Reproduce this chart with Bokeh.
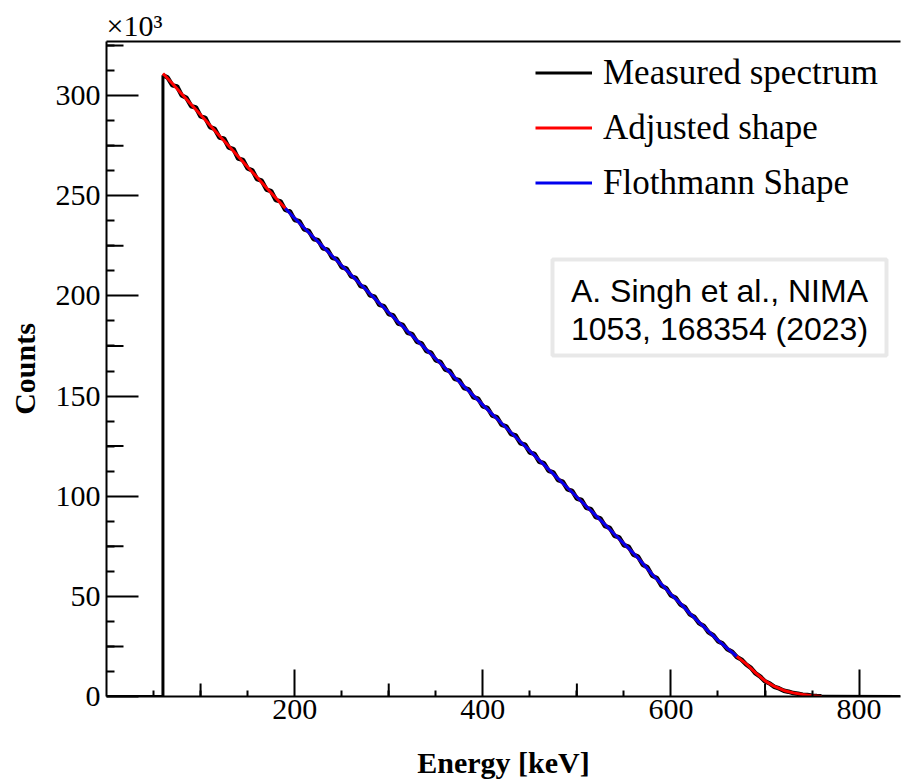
import math
from bokeh.plotting import figure
from bokeh.models import (Range1d, FixedTicker, LinearAxis, Legend, LegendItem,
                          Label, BoxAnnotation)
from bokeh.embed import file_html
from bokeh.resources import INLINE

# ---------------- data (counts in units of 10^3) ----------------
# measured spectrum sampled every 5 keV, 60 ... 760 keV
meas_energy = list(range(60, 765, 5))
measured = [
    310.2, 309.0, 305.1, 304.6, 300.0, 298.9, 294.7, 294.1, 289.6, 288.9,
    284.3, 283.4, 279.1, 278.5, 274.0, 273.3, 268.5, 267.9, 263.6, 262.7,
    258.3, 257.5, 253.1, 252.3, 247.8, 247.2, 242.9, 242.2, 237.9, 237.3,
    233.2, 232.5, 228.4, 227.8, 223.7, 223.1, 219.0, 218.4, 214.3, 213.7,
    209.7, 209.0, 204.9, 204.3, 200.3, 199.6, 195.5, 194.9, 190.9, 190.2,
    186.2, 185.5, 181.6, 180.9, 177.0, 176.3, 172.4, 171.7, 167.8, 167.1,
    163.2, 162.5, 158.6, 157.9, 154.0, 153.3, 149.4, 148.7, 144.8, 144.1,
    140.2, 139.5, 135.6, 134.9, 131.0, 130.3, 126.4, 125.7, 121.8, 121.1,
    117.2, 116.5, 112.6, 111.9, 108.0, 107.3, 103.4, 102.7, 98.8, 98.1,
    94.2, 93.5, 89.6, 88.9, 85.0, 84.2, 80.2, 79.4, 75.5, 74.8,
    70.8, 69.8, 65.8, 64.5, 60.3, 59.2, 55.3, 54.1, 50.4, 49.3,
    45.9, 44.6, 41.0, 39.7, 36.5, 35.2, 32.0, 30.6, 27.6, 26.4,
    23.6, 22.4, 19.7, 18.4, 16.0, 14.3, 11.5, 9.9, 7.6, 6.5,
    4.8, 4.0, 2.9, 2.4, 1.7, 1.4, 0.9, 0.7, 0.4, 0.2,
    0.1,
]
spectrum_start = 60   # keV, threshold of the measured histogram
spectrum_end = 844    # keV, last histogram bin shown

# adjusted shape (red), 60 ... 760 keV every 10 keV
adj_energy = list(range(60, 770, 10))
adjusted = [
    311.0, 306.0, 300.8, 295.6, 290.4, 285.2, 280.0, 274.8, 269.6, 264.4,
    259.2, 254.0, 248.9, 243.8, 238.8, 234.0, 229.3, 224.6, 219.9, 215.2,
    210.5, 205.8, 201.1, 196.4, 191.7, 187.0, 182.4, 177.8, 173.2, 168.6,
    164.0, 159.4, 154.8, 150.2, 145.6, 141.0, 136.4, 131.8, 127.2, 122.6,
    118.0, 113.4, 108.8, 104.2, 99.6, 95.0, 90.4, 85.8, 81.0, 76.3,
    71.6, 66.5, 61.0, 56.0, 51.0, 46.5, 41.5, 37.0, 32.5, 28.0,
    24.0, 20.0, 16.3, 11.8, 7.8, 5.0, 3.0, 1.8, 1.0, 0.4,
    0.0,
]

# Flothmann shape (blue), 190 ... 670 keV every 10 keV
floth_energy = list(range(190, 680, 10))
flothmann = [
    243.8, 238.8, 234.0, 229.3, 224.6, 219.9, 215.2, 210.5, 205.8, 201.1,
    196.4, 191.7, 187.0, 182.4, 177.8, 173.2, 168.6, 164.0, 159.4, 154.8,
    150.2, 145.6, 141.0, 136.4, 131.8, 127.2, 122.6, 118.0, 113.4, 108.8,
    104.2, 99.6, 95.0, 90.4, 85.8, 81.0, 76.3, 71.6, 66.5, 61.0,
    56.0, 51.0, 46.5, 41.5, 37.0, 32.5, 28.0, 24.0, 20.0,
]

x_major = [200, 400, 600, 800]
x_mid = [100, 300, 500, 700]
x_minor = [50, 150, 250, 350, 450, 550, 650, 750]
y_major = [0, 50, 100, 150, 200, 250, 300]
y_mid = [25, 75, 125, 175, 225, 275, 325]
y_minor = [12.5, 37.5, 62.5, 87.5, 112.5, 137.5, 162.5, 187.5, 212.5,
           237.5, 262.5, 287.5, 312.5]

legend_labels = ["Measured spectrum", "Adjusted shape", "Flothmann Shape"]
ref_lines = ["A. Singh et al., NIMA", "1053, 168354 (2023)"]
multiplier = "×10³"

# ---------------- figure ----------------
SERIF = "Liberation Serif"
p = figure(width=902, height=781, output_backend="svg", toolbar_location=None,
           x_range=Range1d(0, 844), y_range=Range1d(0, 327),
           min_border_left=106, min_border_right=2, min_border_top=41,
           min_border_bottom=84, x_axis_label="Energy [keV]",
           y_axis_label="Counts", title=multiplier)
p.outline_line_color = None
p.xgrid.visible = False
p.ygrid.visible = False
p.background_fill_color = "white"
p.border_fill_color = "white"

p.title.align = "left"
p.title.text_font = SERIF
p.title.text_font_size = "30px"
p.title.text_font_style = "normal"
p.title.text_color = "black"
p.title.standoff = 0
p.title.offset = 0

for ax in (p.xaxis[0], p.yaxis[0]):
    ax.axis_line_width = 2
    ax.axis_line_color = "black"
    ax.major_tick_out = 0
    ax.minor_tick_out = 0
    ax.major_tick_line_width = 2
    ax.minor_tick_line_width = 2
    ax.major_tick_line_color = "black"
    ax.minor_tick_line_color = "black"
    ax.major_label_text_font = SERIF
    ax.major_label_text_font_size = "30px"
    ax.major_label_text_color = "black"
    ax.axis_label_text_font = SERIF
    ax.axis_label_text_font_size = "30px"
    ax.axis_label_text_font_style = "bold"
    ax.axis_label_text_color = "black"

p.xaxis[0].ticker = FixedTicker(ticks=x_major, minor_ticks=x_minor + x_mid)
p.xaxis[0].major_tick_in = 27
p.xaxis[0].minor_tick_in = 6
p.xaxis[0].major_label_standoff = 3
p.xaxis[0].axis_label_standoff = 24

p.yaxis[0].ticker = FixedTicker(ticks=y_major, minor_ticks=y_minor + y_mid)
p.yaxis[0].major_tick_in = 32
p.yaxis[0].minor_tick_in = 8
p.yaxis[0].major_label_standoff = 6
p.yaxis[0].axis_label_standoff = 12

top_axis = LinearAxis(ticker=FixedTicker(ticks=[]), major_label_text_font_size="0px",
                      major_tick_line_color=None, minor_tick_line_color=None,
                      axis_line_width=2, axis_line_color="black")
p.add_layout(top_axis, "above")

# medium-length ticks (ROOT style)
p.ray(x=[0] * len(y_mid), y=y_mid, length=17, length_units="screen", angle=0,
      line_color="black", line_width=2)
p.ray(x=x_mid, y=[0] * len(x_mid), length=13, length_units="screen",
      angle=math.pi / 2, line_color="black", line_width=2)

# ---------------- data glyphs ----------------
# histogram outline: zero baseline, threshold edge, and tail back to zero
edge_x = [0, spectrum_start, spectrum_start]
edge_y = [0.0, 0.0, measured[0]]
tail_x = [meas_energy[-1], spectrum_end]
tail_y = [measured[-1], 0.0]
r_edge = p.line(edge_x, edge_y, line_color="black", line_width=3)
p.line(tail_x, tail_y, line_color="black", line_width=3)
# fluctuating measured counts (drawn a bit wider, fits go on top)
p.line(meas_energy, measured, line_color="black", line_width=4.5)
r_adj = p.line(adj_energy, adjusted, line_color="#ff0000", line_width=3)
r_flo = p.line(floth_energy, flothmann, line_color="#0000ee", line_width=3)

legend = Legend(items=[LegendItem(label=legend_labels[0], renderers=[r_edge]),
                       LegendItem(label=legend_labels[1], renderers=[r_adj]),
                       LegendItem(label=legend_labels[2], renderers=[r_flo])],
                location=(429, 486), margin=0, padding=0, spacing=0,
                glyph_width=57, glyph_height=55, label_height=55,
                label_standoff=11, label_text_font=SERIF,
                label_text_font_size="35px", label_text_color="black",
                background_fill_alpha=0, border_line_color=None)
p.add_layout(legend, "center")

# reference box
box = BoxAnnotation(left=446, right=780, top=437, bottom=341,
                    left_units="screen", right_units="screen",
                    top_units="screen", bottom_units="screen",
                    fill_color="white", fill_alpha=1.0,
                    line_color="#b4b4b4", line_width=4)
p.add_layout(box)
p.add_layout(Label(x=613, y=406, x_units="screen", y_units="screen",
                   text=ref_lines[0], text_align="center",
                   text_baseline="alphabetic", text_font="Liberation Sans",
                   text_font_size="32px", text_color="black"))
p.add_layout(Label(x=613, y=368, x_units="screen", y_units="screen",
                   text=ref_lines[1], text_align="center",
                   text_baseline="alphabetic", text_font="Liberation Sans",
                   text_font_size="32px", text_color="black"))

open("out.html", "w").write(file_html(p, INLINE))
